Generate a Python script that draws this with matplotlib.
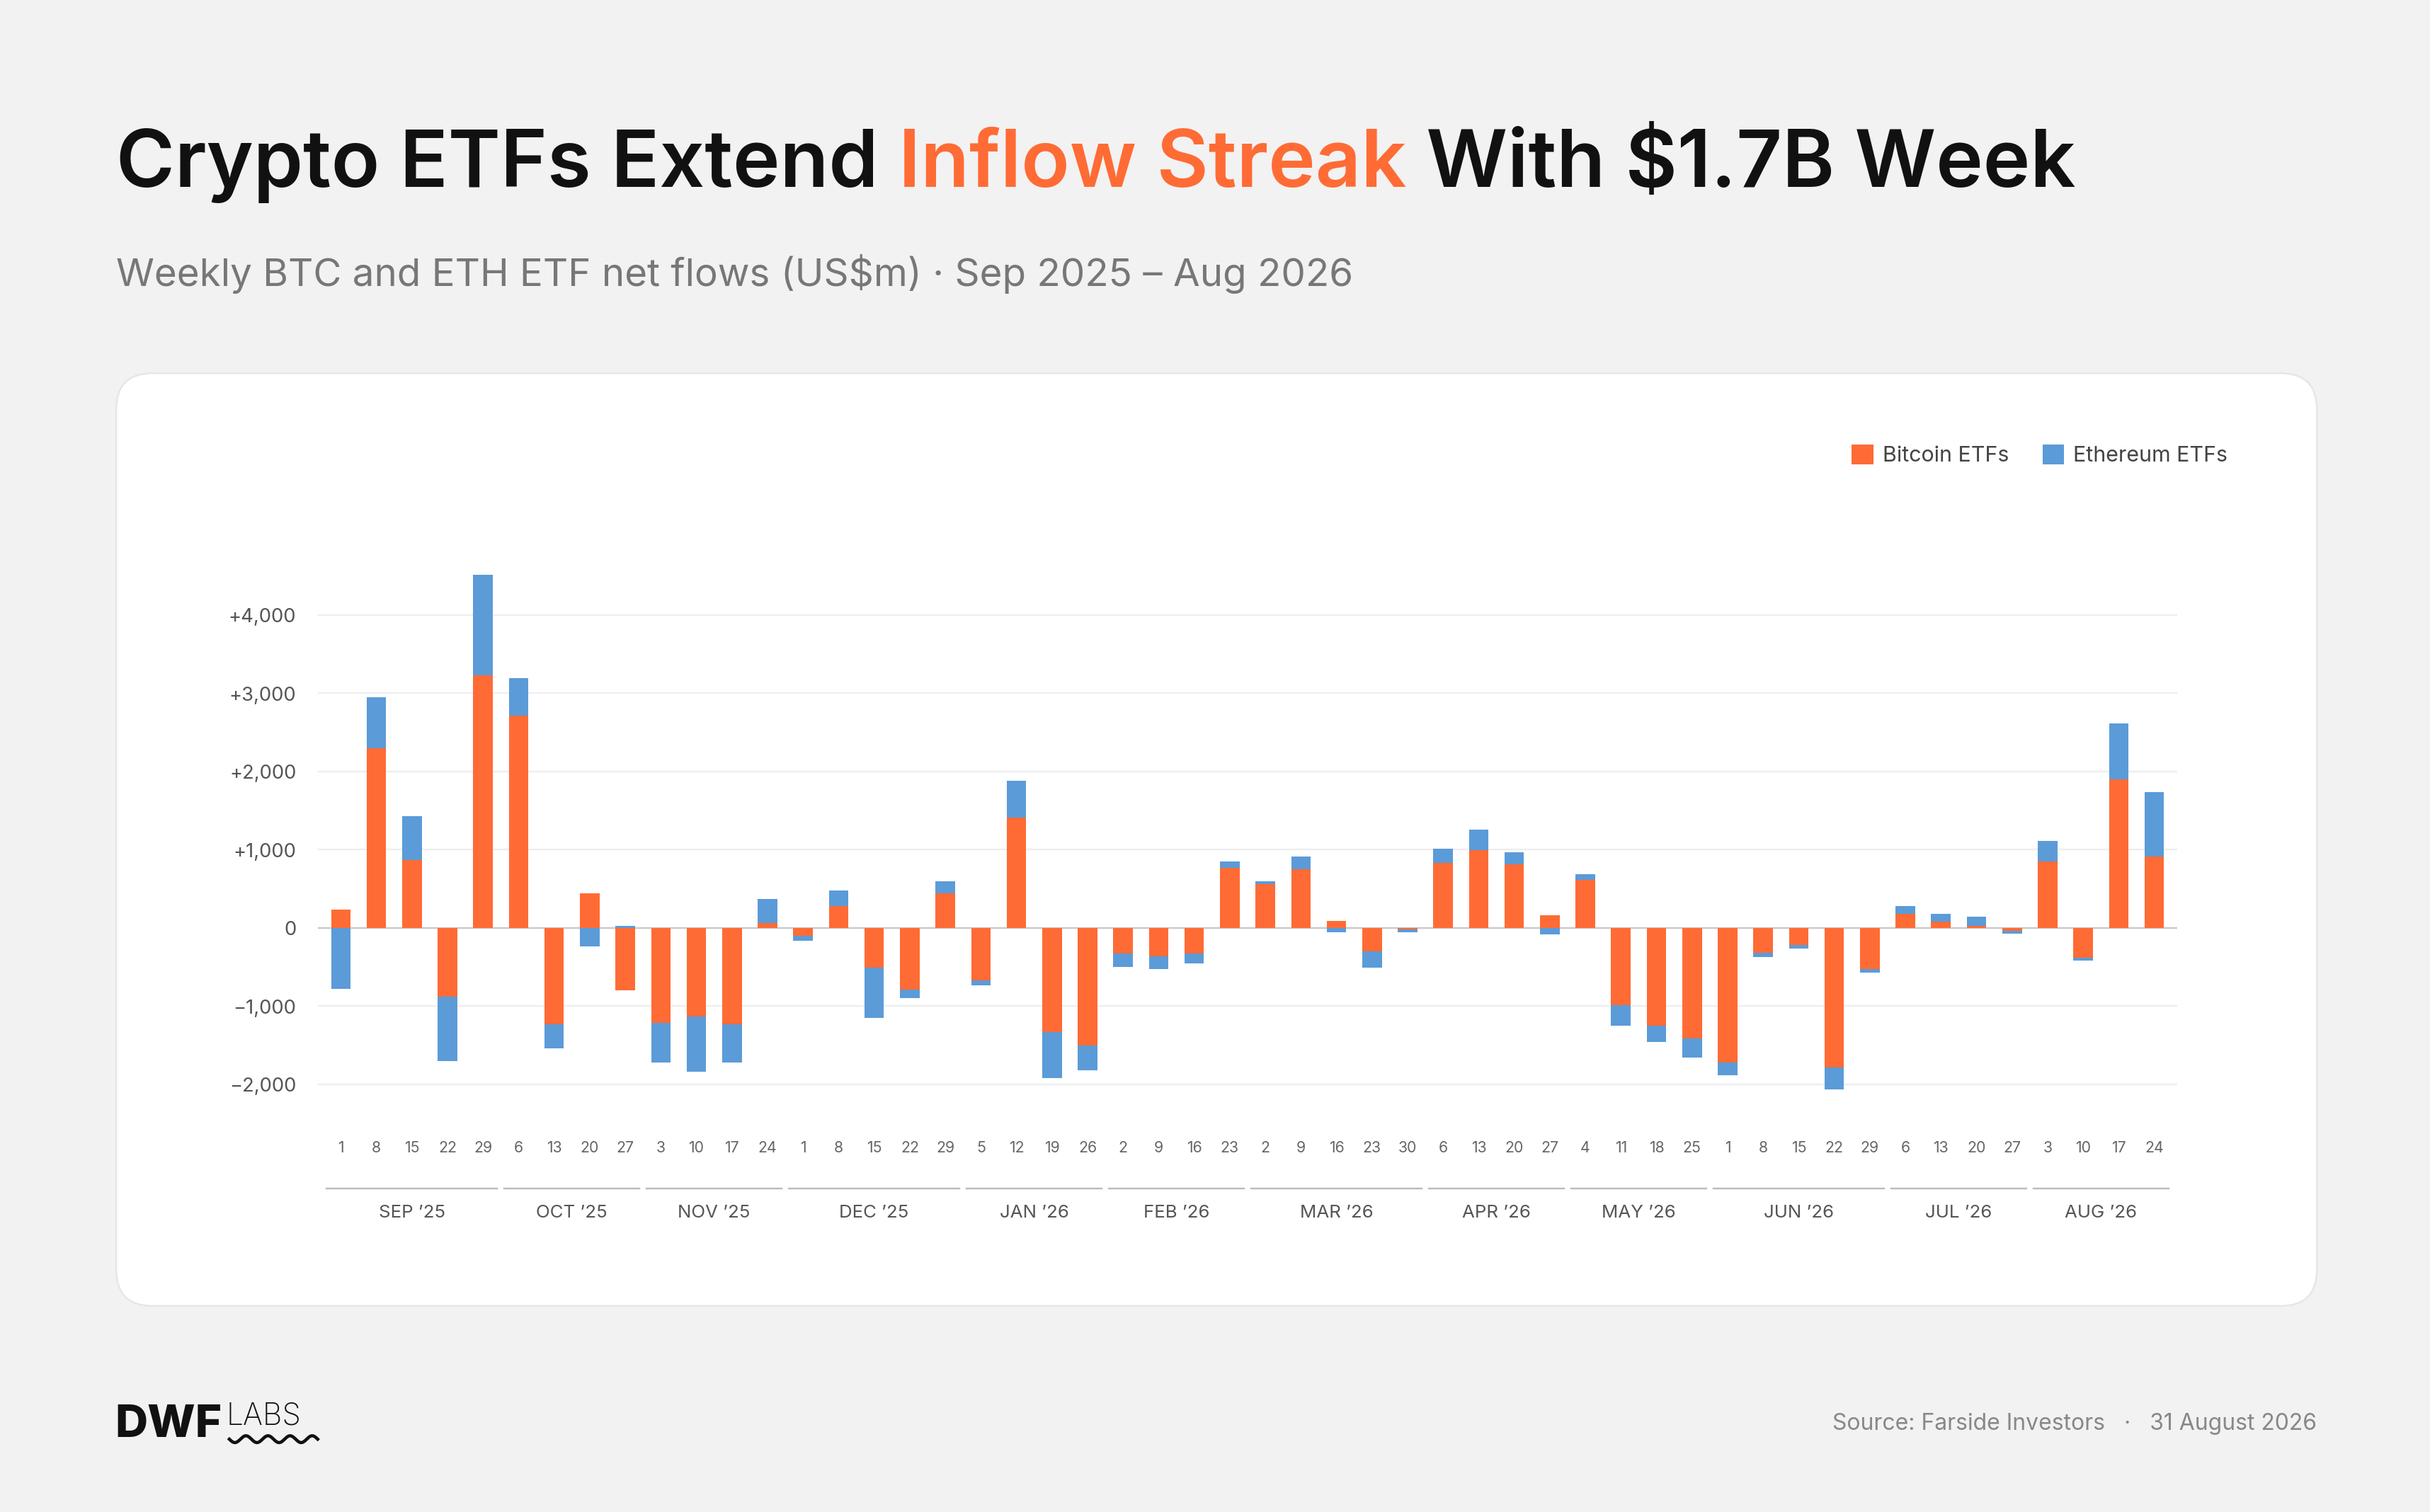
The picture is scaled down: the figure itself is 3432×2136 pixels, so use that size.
import matplotlib.pyplot as plt
import numpy as np
from matplotlib.patches import FancyBboxPatch, Patch

weeks = [1,8,15,22,29, 6,13,20,27, 3,10,17,24, 1,8,15,22,29, 5,12,19,26, 2,9,16,23,
         2,9,16,23,30, 6,13,20,27, 4,11,18,25, 1,8,15,22,29, 6,13,20,27, 3,10,17,24]
months = ["SEP ’25","OCT ’25","NOV ’25","DEC ’25","JAN ’26","FEB ’26","MAR ’26",
          "APR ’26","MAY ’26","JUN ’26","JUL ’26","AUG ’26"]
month_counts = [5,4,4,5,4,4,5,4,4,5,4,4]
btc = [230,2300,870,-880,3230, 2710,-1230,440,-800, -1210,-1130,-1230,60,
       -100,280,-510,-790,440, -670,1410,-1330,-1500, -330,-360,-330,770,
       560,750,90,-300,-20, 830,990,810,160, 610,-990,-1250,-1410,
       -1720,-320,-220,-1780,-530, 180,80,30,-40, 850,-380,1900,910]
eth = [-780,650,560,-820,1280, 480,-310,-240,30, -510,-710,-490,310,
       -60,200,-640,-110,160, -60,470,-590,-320, -170,-170,-120,80,
       40,160,-60,-210,-40, 180,270,160,-80, 80,-260,-210,-250,
       -160,-50,-40,-280,-40, 100,100,110,-30, 260,-40,710,830]
yticks = [-2000,-1000,0,1000,2000,3000,4000]
ytick_labels = ["−2,000","−1,000","0","+1,000","+2,000","+3,000","+4,000"]

ORANGE = "#FF6B35"; BLUE = "#5B9BD8"
plt.rcParams['font.family'] = ['Inter', 'DejaVu Sans']
W, H = 1568, 976
fig = plt.figure(figsize=(15.68, 9.76), dpi=218.88, facecolor="#F2F2F2")

def fx(x): return x / W
def fy(y): return 1 - y / H

card = FancyBboxPatch((fx(75), fy(843)), fx(1495) - fx(75), fy(241) - fy(843),
                      boxstyle="round,pad=0,rounding_size=0.015", transform=fig.transFigure,
                      facecolor="white", edgecolor="#E6E6E6", lw=0.8, mutation_aspect=W/H, zorder=-5)
fig.patches.append(card)

TS = 37
t1 = fig.text(fx(75), fy(107), "Crypto ETFs Extend ", fontsize=TS, fontweight="semibold",
              color="#111111", va="center", ha="left")
fig.canvas.draw()
r = fig.canvas.get_renderer()
bb = t1.get_window_extent(r)
t2 = fig.text(bb.x1 / fig.bbox.width, fy(107), "Inflow Streak", fontsize=TS, fontweight="semibold",
              color=ORANGE, va="center")
bb2 = t2.get_window_extent(r)
fig.text(bb2.x1 / fig.bbox.width, fy(107), " With $1.7B Week", fontsize=TS, fontweight="semibold",
         color="#111111", va="center")
fig.text(fx(75), fy(177), "Weekly BTC and ETH ETF net flows (US$m) · Sep 2025 – Aug 2026",
         fontsize=18, color="#777777", va="center")

ax = fig.add_axes([fx(205), fy(730), fx(1405) - fx(205), fy(350) - fy(730)])
ax.set_facecolor("none")
x = np.arange(len(weeks))
btc_a = np.array(btc); eth_a = np.array(eth)
eth_bottom = np.where(np.sign(eth_a) == np.sign(btc_a), btc_a, 0)
ax.bar(x, btc_a, width=0.55, color=ORANGE, zorder=3)
ax.bar(x, eth_a, bottom=eth_bottom, width=0.55, color=BLUE, zorder=3)
ax.set_xlim(-0.65, len(weeks) - 0.35)
ax.set_ylim(-2594, 4931)
ax.set_yticks(yticks)
ax.set_yticklabels(ytick_labels, fontsize=9, color="#555555")
ax.tick_params(axis='y', length=0, pad=10)
ax.set_xticks([])
ax.grid(axis='y', color="#EEEEEE", lw=0.8, zorder=0)
ax.axhline(0, color="#CCCCCC", lw=0.8, zorder=2)
for s in ax.spines.values():
    s.set_visible(False)

tr = ax.get_xaxis_transform()
def ay(ypix):
    return (fy(ypix) - fy(730)) / (fy(350) - fy(730))
for i, w in enumerate(weeks):
    ax.text(i, ay(741), str(w), transform=tr, ha="center", va="center", fontsize=7, color="#666666")
start = 0
for m, c in zip(months, month_counts):
    ax.plot([start - 0.4, start + c - 0.6], [ay(767)] * 2, transform=tr, color="#BBBBBB",
            lw=0.8, clip_on=False)
    ax.text(start + (c - 1) / 2, ay(783), m, transform=tr, ha="center", va="center",
            fontsize=8.5, color="#555555")
    start += c

fig.legend(handles=[Patch(color=ORANGE, label="Bitcoin ETFs"), Patch(color=BLUE, label="Ethereum ETFs")],
           loc="center right", bbox_to_anchor=(fx(1450), fy(294)), frameon=False, ncol=2, fontsize=10,
           handlelength=0.9, handleheight=0.9, columnspacing=1.6, handletextpad=0.5, labelcolor="#444444")

fig.text(fx(74), fy(920), "DWF", fontsize=21, fontweight="heavy", color="#111111", va="center")
fig.text(fx(146), fy(914), "LABS", fontsize=14, fontweight="light", color="#111111", va="center")
wx = np.linspace(148, 205, 200)
wy = 929 + 2.2 * np.sin((wx - 148) / 57 * 2 * np.pi * 4)
fig.add_artist(plt.Line2D(fx(wx), fy(wy), transform=fig.transFigure, color="#111111", lw=1.5))

fig.text(fx(1495), fy(919), "Source: Farside Investors   ·   31 August 2026", fontsize=10.5,
         color="#888888", ha="right", va="center")

fig.savefig("out.png", dpi=218.88, facecolor=fig.get_facecolor())
